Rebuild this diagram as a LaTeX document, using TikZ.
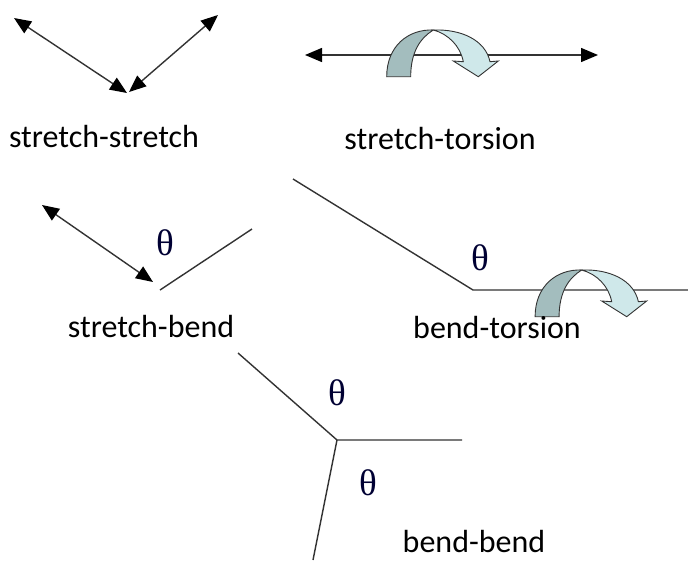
\documentclass[tikz,border=0pt]{standalone}
\usepackage{fontspec}
\setmainfont{Carlito}
\newfontfamily\thetafont{Liberation Serif}
\usetikzlibrary{arrows.meta}
\definecolor{darkteal}{HTML}{A3BDBE}
\definecolor{lightteal}{HTML}{CFE8EA}
\definecolor{edgegray}{HTML}{333333}
\tikzset{
  bond/.style={draw=edgegray, line width=1.4pt},
  dbl/.style={bond, {Triangle[length=17pt,width=14pt,color=black,fill=black]}-{Triangle[length=17pt,width=14pt,color=black,fill=black]}},
  lbl/.style={font=\fontsize{32}{38}\selectfont, text=black, inner sep=0pt},
  th/.style={font=\thetafont\fontsize{37}{42}\selectfont, text=black!80!blue, inner sep=0pt},
  twist/.pic={
    \filldraw[fill=lightteal, draw=edgegray, line width=0.9pt]
      (0,0) .. controls (28,-1) and (52,10) .. (56.7,31.7) -- (65,31) -- (45,46.7) -- (20,31) -- (30,31.7)
      .. controls (27,16) and (15,4) .. (0,0) -- cycle;
    \filldraw[fill=darkteal, draw=edgegray, line width=0.9pt]
      (-46.6,46.7) .. controls (-46.6,16) and (-25,-1) .. (0,0)
      .. controls (-13,8) and (-22.6,22) .. (-22.6,46.7) -- cycle;
  }
}
\begin{document}
\begin{tikzpicture}[x=1pt,y=-1pt]
\useasboundingbox (0,0) rectangle (688,560);
% stretch-stretch
\coordinate (ssA) at (14,18);
\coordinate (ssB) at (127,93);
\coordinate (ssC) at (218,15);
\coordinate (ssD) at (129,92);
\draw[dbl] (ssA) -- (ssB);
\draw[dbl] (ssC) -- (ssD);
\node[lbl] (ssL) at (104,137) {stretch-stretch};
% stretch-torsion
\coordinate (stA) at (305,55);
\coordinate (stB) at (598,55);
\draw[dbl] (stA) -- (stB);
\pic (stT) at (433.3,30) {twist};
\node[lbl] (stL) at (440,139) {stretch-torsion};
% stretch-bend
\coordinate (sbA) at (42,205);
\coordinate (sbB) at (153,282);
\coordinate (sbC) at (160,290);
\coordinate (sbD) at (252,229);
\draw[dbl] (sbA) -- (sbB);
\draw[bond] (sbC) -- (sbD);
\node[th] (sbT) at (165,243) {θ};
\node[lbl] (sbL) at (151,327) {stretch-bend};
% bend-torsion
\coordinate (btA) at (293,179);
\coordinate (btB) at (473,290);
\coordinate (btC) at (688,290);
\draw[bond] (btA) -- (btB) -- (btC);
\node[th] (btT) at (480,258) {θ};
\pic (btW) at (581.7,270) {twist};
\node[lbl] (btL) at (497,328) {bend-torsion};
% bend-bend
\coordinate (bbA) at (238,353);
\coordinate (bbO) at (337,440);
\coordinate (bbB) at (462,440);
\coordinate (bbC) at (313,560);
\draw[bond] (bbA) -- (bbO) -- (bbB);
\draw[bond] (bbO) -- (bbC);
\node[th] (bbT1) at (337,393) {θ};
\node[th] (bbT2) at (368,483) {θ};
\node[lbl] (bbL) at (474,541) {bend-bend};
\end{tikzpicture}
\end{document}
